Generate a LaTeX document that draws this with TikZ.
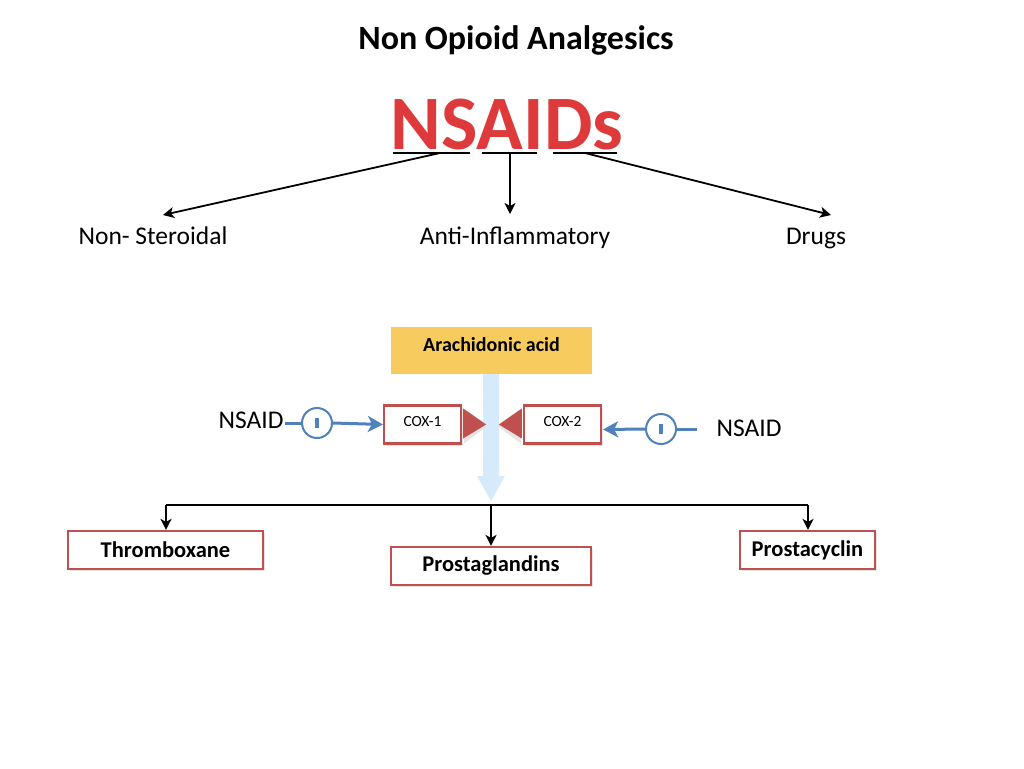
\documentclass[tikz,border=0pt]{standalone}
\usepackage{fontspec}
\setmainfont{Carlito}
\usepackage{tikz}
\usetikzlibrary{calc}
\usetikzlibrary{arrows.meta}
\usetikzlibrary{shadows}

\definecolor{redline}{RGB}{192,80,77}
\definecolor{blueline}{RGB}{79,129,189}
\definecolor{acidfill}{RGB}{247,203,94}
\definecolor{flowblue}{RGB}{213,234,250}
\definecolor{nsaidred}{RGB}{222,58,60}

\tikzset{
  redbox/.style={draw=redline,line width=2.2pt,fill=white,minimum height=38pt,inner sep=0pt,
    drop shadow={shadow xshift=2pt,shadow yshift=-2pt,fill=gray!35,opacity=0.6}},
  blackarrow/.style={draw=black,line width=1.8pt,-{Stealth[length=11pt,width=11pt,inset=3pt]}},
  bluearrow/.style={draw=blueline,line width=3pt,-{Stealth[length=15pt,width=16pt,inset=4pt]}},
  blueline/.style={draw=blueline,line width=3pt},
}

\begin{document}
\begin{tikzpicture}[x=1pt,y=-1pt]
        \useasboundingbox[fill=white] (0,0) rectangle (1024,768);
		% heading
		\node (title) at (516,40) {\fontsize{34}{40}\selectfont\bfseries Non Opioid Analgesics};
		\node[text=nsaidred,anchor=base] (nsaids) at (507,149) {\fontsize{77}{82}\selectfont\bfseries NSAIDs};
		\coordinate (U1) at (393,153);
		\coordinate (U2) at (470,153);
		\coordinate (U3) at (482,153);
		\coordinate (U4) at (537,153);
		\coordinate (U5) at (553,153);
		\coordinate (U6) at (617,153);
		\draw[line width=2.6pt] (U1)--(U2);
		\draw[line width=2.6pt] (U3)--(U4);
		\draw[line width=2.6pt] (U5)--(U6);
		\node[anchor=base] (nonster) at (153,244) {\fontsize{25.5}{30}\selectfont Non- Steroidal};
		\node[anchor=base] (antiinf) at (515,244) {\fontsize{25.5}{30}\selectfont Anti-Inflammatory};
		\node[anchor=base] (drugs) at (816,244) {\fontsize{25.5}{30}\selectfont Drugs};
		\coordinate (A) at (440,153);
		\coordinate (B) at (510,153);
		\coordinate (C) at (585,153);
		\coordinate (A') at (163,215);
		\coordinate (B') at (510,214);
		\coordinate (C') at (831,215);
		\draw[blackarrow] (A)--(A');
		\draw[blackarrow] (B)--(B');
		\draw[blackarrow] (C)--(C');

		% pathway
		\node[fill=acidfill,minimum width=201pt,minimum height=47pt] (acid) at (491.5,350.5) {};
		\node (acidtext) at (491.5,345) {\fontsize{20}{24}\selectfont\bfseries Arachidonic acid};
		\fill[flowblue] (483,374)--(499,374)--(499,476)--(505,476)--(491,501)--(477,476)--(483,476)--cycle;
		\node[redbox,minimum width=77pt] (cox1) at (422.5,424.5) {};
		\node[redbox,minimum width=77pt] (cox2) at (562.5,424.5) {};
		\node (cox1text) at (422.5,422) {\fontsize{15.5}{18}\selectfont COX-1};
		\node (cox2text) at (562.5,422) {\fontsize{15.5}{18}\selectfont COX-2};
		\fill[gray!20] ($(cox1.east)+(2,-16)$)--($(cox1.east)+(26,1)$)--($(cox1.east)+(2,19)$)--cycle;
		\fill[redline] ($(cox1.east)+(1,-16)$)--($(cox1.east)+(24,0)$)--($(cox1.east)+(1,14)$)--cycle;
		\fill[gray!20] ($(cox2.west)+(-2,-16)$)--($(cox2.west)+(-26,1)$)--($(cox2.west)+(-2,19)$)--cycle;
		\fill[redline] ($(cox2.west)+(-1,-16)$)--($(cox2.west)+(-24,0)$)--($(cox2.west)+(-1,14)$)--cycle;

		% inhibitors
		\node (nsaidl) at (251,420) {\fontsize{25.5}{30}\selectfont NSAID};
		\node[draw=blueline,line width=2pt,circle,minimum size=30pt,inner sep=0pt] (inhl) at (317,423) {};
		\draw[blueline,line width=3.5pt] ($(inhl)+(0,-5)$)--($(inhl)+(0,5)$);
		\draw[blueline] (285,423)--(inhl.west);
		\draw[bluearrow] (inhl.east)--(cox1.west);
		\node (nsaidr) at (749,428) {\fontsize{25.5}{30}\selectfont NSAID};
		\node[draw=blueline,line width=2pt,circle,minimum size=30pt,inner sep=0pt] (inhr) at (661,429) {};
		\draw[blueline,line width=3.5pt] ($(inhr)+(0,-5)$)--($(inhr)+(0,5)$);
		\draw[blueline] (inhr.east)--++(20,0);
		\draw[bluearrow] (inhr.west)--($(cox2.east)+(1,5)$);

		% products
		\node[redbox,minimum width=195pt] (thromb) at (165.5,550) {\fontsize{22.5}{26}\selectfont\bfseries Thromboxane};
		\node[redbox,minimum width=200pt] (prostag) at (491,566) {\fontsize{22.5}{26}\selectfont\bfseries Prostaglandins};
		\node[redbox,minimum width=135pt] (prostac) at (807.5,550) {\fontsize{22.5}{26}\selectfont\bfseries Prostacyclin};
		\coordinate (L) at (166,505);
		\coordinate (M) at (491,505);
		\coordinate (R) at (808,505);
		\draw[line width=1.8pt] (L)--(R);
		\draw[blackarrow] (L)--(thromb.north -| L);
		\draw[blackarrow] (M)--(prostag.north);
		\draw[blackarrow] (R)--(prostac.north -| R);
\end{tikzpicture}
\end{document}
